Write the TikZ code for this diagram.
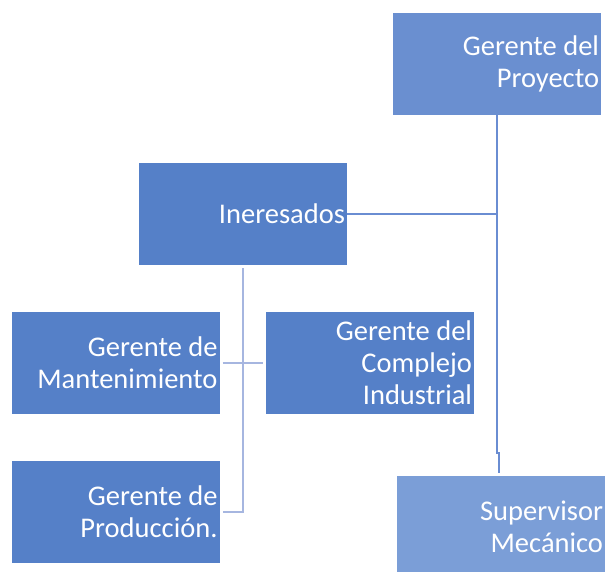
\documentclass[tikz,border=0pt]{standalone}
\usepackage{fontspec}
\setmainfont{Carlito}
\usetikzlibrary{positioning}
\definecolor{bxmain}{HTML}{5580C8}
\definecolor{bxtop}{HTML}{6A8FD0}
\definecolor{bxsup}{HTML}{7B9ED7}
\definecolor{lnd}{HTML}{6A8DD2}
\definecolor{lnl}{HTML}{A6B6E0}

\begin{document}
\begin{tikzpicture}[x=1pt,y=-1pt]
\tikzstyle {bx1}=[rectangle, minimum width=208pt, minimum height=102pt, text width=204pt, inner sep=2pt, align=flush right, text=white, font=\fontsize{28.5}{32}\selectfont]
\tikzstyle {bxm}=[bx1, fill=bxmain]
\tikzstyle {bxt}=[bx1, fill=bxtop]
\tikzstyle {bxs}=[bx1, fill=bxsup]
\tikzstyle {lnk}=[draw=lnd, line width=2.5pt]
\tikzstyle {lnkl}=[draw=lnl, line width=2.8pt]
\useasboundingbox (0,0) rectangle (606,572);
\node (proy) [bxt] at (497,64) {Gerente del\\Proyecto};
\node (iner) [bxm] at (243,214) {Ineresados};
\node (mant) [bxm, minimum width=207pt] at (115.5,363) {Gerente de\\Mantenimiento};
\node (compl) [bxm] at (370,363) {Gerente del\\Complejo\\Industrial};
\node (prod) [bxm, minimum width=207pt] at (115.5,512) {Gerente de\\Producción.};
\node (sup) [bxs] at (501,527) {Supervisor\\Mecánico};
\coordinate (jogA) at (497,453);
\coordinate (jogB) at (499,453);
\draw[lnk] (proy.south) -- (jogA) -- (jogB) -- ([xshift=-2pt,yshift=3pt]sup.north);
\draw[lnk] (iner.east) -- (iner.east -| proy.south);
\draw[lnkl] ([yshift=-3pt]iner.south) |- ([xshift=3pt]prod.east);
\draw[lnkl] ([xshift=3pt]mant.east) -- ([xshift=-3pt]compl.west);
\end{tikzpicture}
\end{document}
